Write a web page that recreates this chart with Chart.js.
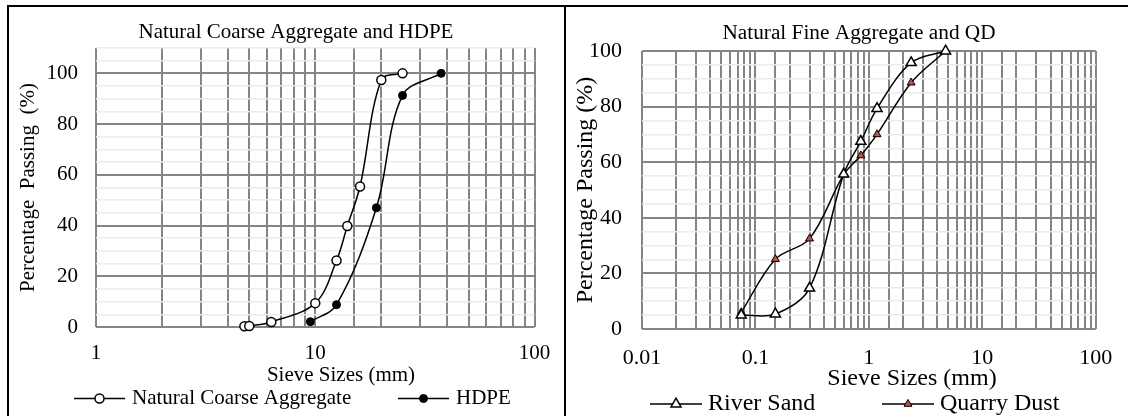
<!DOCTYPE html>
<html>
<head>
<meta charset="utf-8">
<script src="https://cdn.jsdelivr.net/npm/chart.js@4.4.0/dist/chart.umd.min.js"></script>
<style>
  html, body { margin: 0; padding: 0; background: #fff; overflow: hidden; }
  body { width: 1128px; height: 416px; position: relative; }
  #frame { position: absolute; left: 7px; top: 5px; width: 1121px; height: 411px;
           border-top: 2px solid #000; border-left: 2px solid #000; }
  #divider { position: absolute; left: 564px; top: 5px; width: 2px; height: 411px; background: #000; }
  #leftBox { position: absolute; left: 9px; top: 7px; width: 555px; height: 409px; }
  #rightBox { position: absolute; left: 567px; top: 7px; width: 561px; height: 409px; }
</style>
</head>
<body>
<div id="frame"></div>
<div id="divider"></div>
<div id="leftBox"><canvas id="chart-coarse"></canvas></div>
<div id="rightBox"><canvas id="chart-fine"></canvas></div>
<script>
// sieve sizes (mm) and percentage passing
const ncaSize = [4.75, 5, 6.3, 10, 12.5, 14, 16, 20, 25];
const ncaPassing = [0.3, 0.4, 2, 9.4, 26.2, 39.8, 55.4, 97.4, 100];
const hdpeSize = [9.5, 12.5, 19, 25, 37.5];
const hdpePassing = [2.1, 8.8, 47, 91.3, 100];

const fineSize = [0.075, 0.15, 0.3, 0.6, 0.85, 1.18, 2.36, 4.75];
const riverSandPassing = [5, 5.4, 14.7, 55.7, 67.5, 79.3, 95.8, 100];
const quarryDustPassing = [6, 25.1, 32.5, 55.5, 62.4, 70, 88.6, 100];

const coarseXTicks = ['1', '10', '100'];
const fineXTicks = ['0.01', '0.1', '1', '10', '100'];
const yTickLabels = [0, 20, 40, 60, 80, 100];

const FONT = '"Liberation Serif", "Times New Roman", serif';
Chart.defaults.font.family = FONT;
Chart.defaults.color = '#000';

function toPoints(xs, ys) {
  return xs.map((x, i) => ({ x, y: ys[i] }));
}

function logTickLabel(list) {
  return function (v) {
    const hit = list.find(t => Math.abs(Math.log10(+t) - Math.log10(v)) < 1e-6);
    return hit || '';
  };
}

function drawMarker(ctx, ds, x, y) {
  ctx.save();
  ctx.fillStyle = ds.pointBackgroundColor;
  ctx.strokeStyle = ds.pointBorderColor;
  ctx.lineWidth = ds.pointBorderWidth;
  const opts = { pointStyle: ds.pointStyle, radius: ds.pointRadius, borderWidth: ds.pointBorderWidth, rotation: 0 };
  Chart.helpers.drawPoint(ctx, opts, x, y);
  ctx.restore();
}

// chart title, x-axis title and legend sit off-centre in the original,
// so they are placed by hand here
const panelText = {
  id: 'panelText',
  afterDraw(chart, args, opts) {
    const ctx = chart.ctx;
    ctx.save();
    ctx.fillStyle = '#000';
    ctx.textBaseline = 'middle';
    ctx.textAlign = 'center';

    [opts.title, opts.xTitle].forEach(t => {
      ctx.font = t.size + 'px ' + FONT;
      ctx.fillText(t.text, t.x, t.y);
    });

    const lg = opts.legend;
    ctx.font = lg.size + 'px ' + FONT;
    ctx.textAlign = 'left';
    chart.data.datasets.forEach((ds, i) => {
      const x = lg.x[i];
      ctx.strokeStyle = ds.borderColor;
      ctx.lineWidth = ds.borderWidth;
      ctx.beginPath();
      ctx.moveTo(x, lg.y);
      ctx.lineTo(x + lg.lineLen, lg.y);
      ctx.stroke();
      drawMarker(ctx, ds, x + lg.lineLen / 2, lg.y);
      ctx.fillStyle = '#000';
      ctx.fillText(ds.label, x + lg.lineLen + lg.gap, lg.y);
    });
    ctx.restore();
  }
};

function buildOptions(c) {
  return {
    responsive: true,
    maintainAspectRatio: false,
    animation: false,
    layout: { padding: { left: 0, right: c.padR, top: c.padT, bottom: c.padB } },
    plugins: {
      legend: { display: false },
      tooltip: { enabled: false },
      title: { display: false },
      panelText: { title: c.title, xTitle: c.xTitle, legend: c.legend },
    },
    scales: {
      x: {
        type: 'logarithmic',
        min: c.xMin,
        max: c.xMax,
        afterFit(s) { s.height = c.xHeight; },
        border: { display: false },
        grid: { color: '#858585', lineWidth: 2, drawTicks: false },
        ticks: {
          autoSkip: false,
          maxRotation: 0,
          padding: c.xTickPad,
          font: { size: c.tickSize },
          callback: logTickLabel(c.xTicks),
        },
      },
      y: {
        min: 0,
        max: c.yMax,
        afterFit(s) { s.width = c.yWidth; },
        border: { display: false },
        grid: {
          drawTicks: false,
          color: ctx => (ctx.tick.value % 20 === 0 ? '#858585' : '#ececec'),
          lineWidth: ctx => (ctx.tick.value % 20 === 0 ? 2 : 1.5),
        },
        ticks: {
          stepSize: 5,
          autoSkip: false,
          padding: c.yTickPad,
          font: { size: c.tickSize },
          callback: v => (yTickLabels.includes(v) ? String(v) : ''),
        },
        title: {
          display: true,
          text: c.yTitle,
          font: { size: c.yTitleSize },
          padding: { top: c.yTitlePad, bottom: 0 },
        },
      },
    },
  };
}

const lineBase = { showLine: true, borderColor: '#000', borderWidth: 1.5, tension: 0.35, clip: false, pointBorderColor: '#000' };

new Chart(document.getElementById('chart-coarse'), {
  type: 'scatter',
  data: {
    datasets: [
      Object.assign({}, lineBase, {
        label: 'Natural Coarse Aggregate',
        data: toPoints(ncaSize, ncaPassing),
        pointStyle: 'circle', pointRadius: 4.5, pointBorderWidth: 1.5, pointBackgroundColor: '#fff',
      }),
      Object.assign({}, lineBase, {
        label: 'HDPE',
        data: toPoints(hdpeSize, hdpePassing),
        pointStyle: 'circle', pointRadius: 4, pointBorderWidth: 1, pointBackgroundColor: '#000',
      }),
    ],
  },
  options: buildOptions({
    padR: 25, padT: 41, padB: 29,
    title: { text: 'Natural Coarse Aggregate and HDPE', x: 287, y: 25, size: 21 },
    xMin: 1, xMax: 100, xTicks: coarseXTicks, xHeight: 60, xTickPad: 13.7,
    yMax: 110, yWidth: 87, yTickPad: 18, tickSize: 21,
    yTitle: 'Percentage  Passing  (%)', yTitleSize: 21, yTitlePad: 6.4,
    xTitle: { text: 'Sieve Sizes (mm)', x: 332, y: 368, size: 21 },
    legend: { x: [65, 389], y: 391.5, lineLen: 51, gap: 7, size: 21 },
  }),
  plugins: [panelText],
});

new Chart(document.getElementById('chart-fine'), {
  type: 'scatter',
  data: {
    datasets: [
      Object.assign({}, lineBase, {
        label: 'River Sand',
        data: toPoints(fineSize, riverSandPassing),
        pointStyle: 'triangle', pointRadius: 5.8, pointBorderWidth: 1.5, pointBackgroundColor: '#fff',
      }),
      Object.assign({}, lineBase, {
        label: 'Quarry Dust',
        data: toPoints(fineSize, quarryDustPassing),
        pointStyle: 'triangle', pointRadius: 4.6, pointBorderWidth: 1, pointBackgroundColor: '#c0504d',
      }),
    ],
  },
  options: buildOptions({
    padR: 24, padT: 44, padB: 27,
    title: { text: 'Natural Fine Aggregate and QD', x: 292, y: 26.5, size: 21.3 },
    xMin: 0.01, xMax: 100, xTicks: fineXTicks, xHeight: 60, xTickPad: 15.8,
    yMax: 100, yWidth: 75, yTickPad: 20, tickSize: 22,
    yTitle: 'Percentage Passing (%)', yTitleSize: 24, yTitlePad: 4.5,
    xTitle: { text: 'Sieve Sizes (mm)', x: 345, y: 371.5, size: 24 },
    legend: { x: [83, 315], y: 397, lineLen: 52, gap: 6, size: 24 },
  }),
  plugins: [panelText],
});
</script>
</body>
</html>
